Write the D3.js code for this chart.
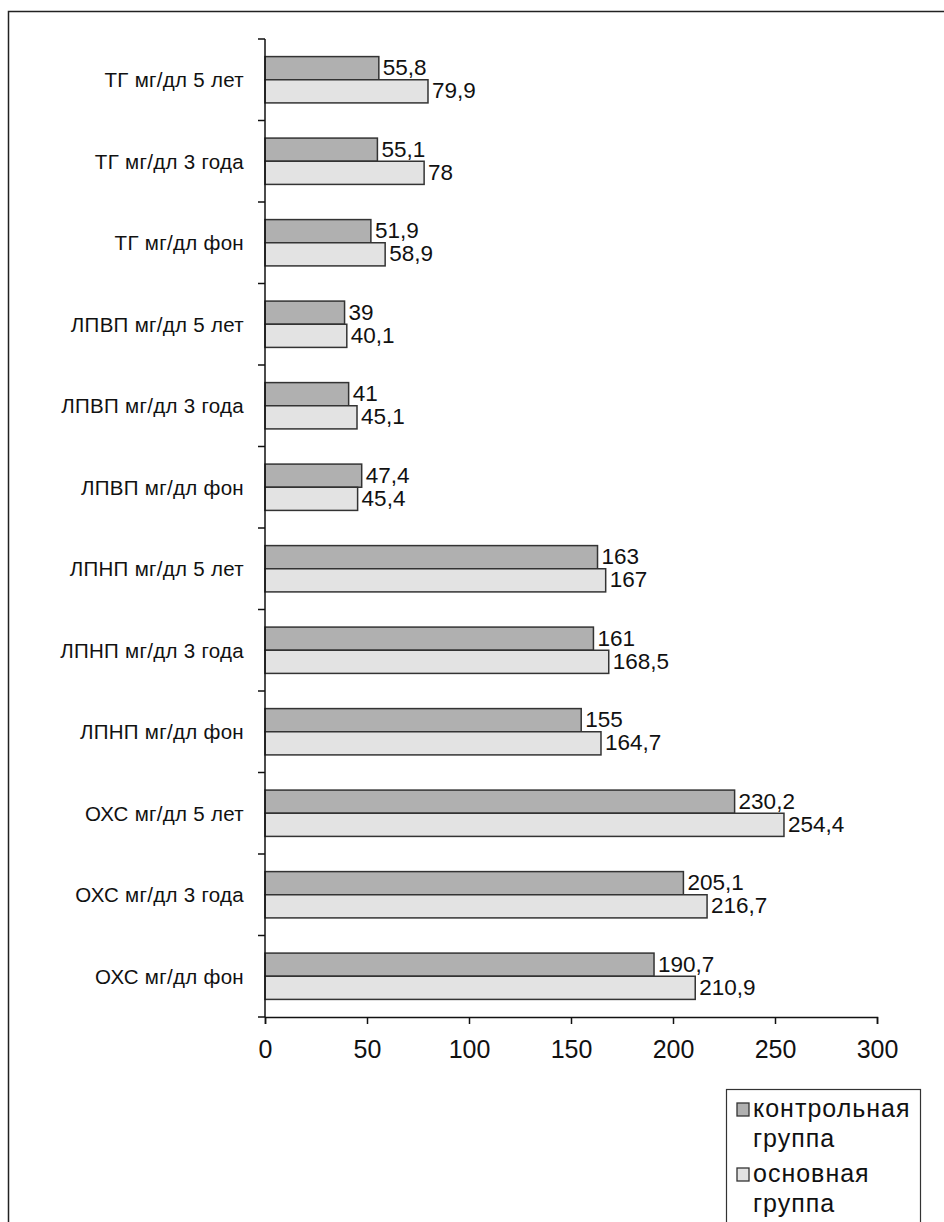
<!DOCTYPE html>
<html>
<head>
<meta charset="utf-8">
<script src="https://cdn.jsdelivr.net/npm/d3@7"></script>
<style>
  body { margin: 0; background: #fff; }
  text { font-family: "Liberation Sans", Arial, sans-serif; fill: #111; }
</style>
</head>
<body>
<div id="chart"></div>
<script>
// categories top to bottom
const categories = [
  "ТГ мг/дл 5 лет", "ТГ мг/дл 3 года", "ТГ мг/дл фон",
  "ЛПВП мг/дл 5 лет", "ЛПВП мг/дл 3 года", "ЛПВП мг/дл фон",
  "ЛПНП мг/дл 5 лет", "ЛПНП мг/дл 3 года", "ЛПНП мг/дл фон",
  "ОХС мг/дл 5 лет", "ОХС мг/дл 3 года", "ОХС мг/дл фон"
];
const controlValues = [55.8, 55.1, 51.9, 39, 41, 47.4, 163, 161, 155, 230.2, 205.1, 190.7];
const mainValues = [79.9, 78, 58.9, 40.1, 45.1, 45.4, 167, 168.5, 164.7, 254.4, 216.7, 210.9];
const legendLines = [["контрольная", "группа"], ["основная", "группа"]];
const xTicks = [0, 50, 100, 150, 200, 250, 300];
const colors = ["#b0b0b0", "#e3e3e3"];

const W = 944, H = 1222;
const svg = d3.select("#chart").append("svg").attr("width", W).attr("height", H);

// outer frame (runs off right and bottom edges)
svg.append("rect").attr("x", 8.5).attr("y", 11.5).attr("width", 960).attr("height", 1260)
  .attr("fill", "none").attr("stroke", "#222").attr("stroke-width", 1.5);

const x = d3.scaleLinear().domain([0, 300]).range([265, 877]);
const y = d3.scaleBand().domain(categories).range([39, 1017]);
const ySub = d3.scaleBand().domain([0, 1]).range([0, y.step()]).paddingOuter(0.76);

const rows = categories.map((c, i) => ({ cat: c, vals: [controlValues[i], mainValues[i]] }));
const fmt = v => String(v).replace(".", ",");

const g = svg.append("g").attr("class", "bars");
const grp = g.selectAll("g.row").data(rows).join("g")
  .attr("transform", d => `translate(0,${y(d.cat)})`);

grp.selectAll("rect").data(d => d.vals.map((v, k) => ({ v, k }))).join("rect")
  .attr("x", x(0))
  .attr("y", d => ySub(d.k))
  .attr("width", d => x(d.v) - x(0))
  .attr("height", ySub.bandwidth())
  .attr("fill", d => colors[d.k])
  .attr("stroke", "#333").attr("stroke-width", 1.5);

grp.selectAll("text.val").data(d => d.vals.map((v, k) => ({ v, k }))).join("text")
  .attr("class", "val")
  .attr("x", d => x(d.v) + 4)
  .attr("y", d => ySub(d.k) + ySub.bandwidth() / 2 - 1)
  .attr("dy", "0.36em")
  .attr("font-size", 22.5)
  .text(d => fmt(d.v));

// y axis: line with ticks at category boundaries
svg.append("line").attr("x1", x(0)).attr("x2", x(0)).attr("y1", 39).attr("y2", 1017)
  .attr("stroke", "#111").attr("stroke-width", 1.5);
const bounds = categories.map(c => y(c)).concat([y.range()[1]]);
svg.selectAll("line.ytick").data(bounds).join("line").attr("class", "ytick")
  .attr("x1", x(0) - 7).attr("x2", x(0)).attr("y1", d => d).attr("y2", d => d)
  .attr("stroke", "#111").attr("stroke-width", 1.5);
svg.selectAll("text.ylab").data(categories).join("text").attr("class", "ylab")
  .attr("x", 244).attr("y", d => y(d) + y.step() / 2)
  .attr("dy", "0.36em").attr("text-anchor", "end").attr("font-size", 20.5)
  .attr("letter-spacing", 0.3)
  .text(d => d);

// x axis
const xAxis = svg.append("g").attr("transform", "translate(0,1017)")
  .call(d3.axisBottom(x).tickValues(xTicks).tickSize(7).tickPadding(16).tickFormat(d3.format("d")));
xAxis.select(".domain").attr("stroke", "#111").attr("stroke-width", 1.5);
xAxis.selectAll(".tick line").attr("stroke", "#111").attr("stroke-width", 1.5);
xAxis.selectAll(".tick text").attr("font-size", 25).attr("fill", "#111")
  .style("font-family", "\"Liberation Sans\", Arial, sans-serif");

// legend
const lg = svg.append("g").attr("class", "legend");
lg.append("rect").attr("x", 726.5).attr("y", 1089.5).attr("width", 194).attr("height", 160)
  .attr("fill", "#fff").attr("stroke", "#333").attr("stroke-width", 1.2);
legendLines.forEach((lines, k) => {
  const top = 1103 + k * 65;
  lg.append("rect").attr("x", 737).attr("y", top).attr("width", 12).attr("height", 13)
    .attr("fill", colors[k]).attr("stroke", "#333").attr("stroke-width", 1.3);
  lines.forEach((t, j) => {
    lg.append("text").attr("x", 753).attr("y", top + 7 + j * 30)
      .attr("dy", "0.28em").attr("font-size", 25).attr("letter-spacing", 1).text(t);
  });
});
</script>
</body>
</html>
